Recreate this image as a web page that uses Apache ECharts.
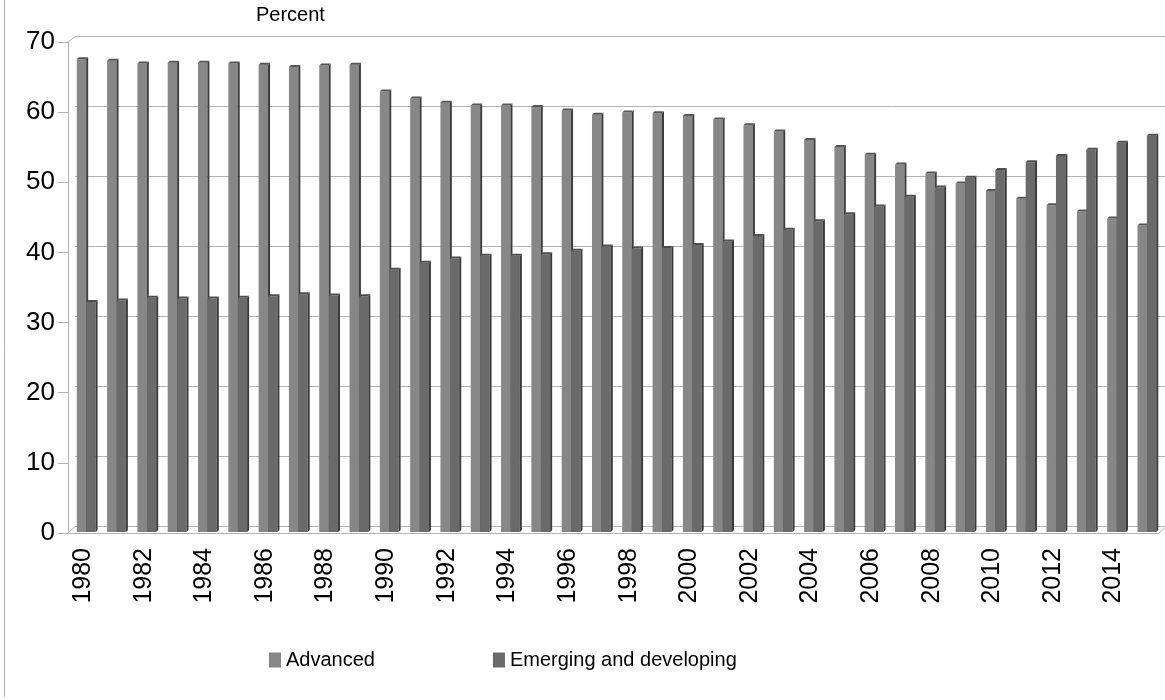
<!DOCTYPE html>
<html>
<head>
<meta charset="utf-8">
<script src="https://cdn.jsdelivr.net/npm/echarts@6/dist/echarts.min.js"></script>
<style>
  html, body { margin: 0; padding: 0; background: #fff; }
  #chart { width: 1165px; height: 700px; }
</style>
</head>
<body>
<div id="chart"></div>
<script>
// data
var years = ['1980','1981','1982','1983','1984','1985','1986','1987','1988','1989',
  '1990','1991','1992','1993','1994','1995','1996','1997','1998','1999',
  '2000','2001','2002','2003','2004','2005','2006','2007','2008','2009',
  '2010','2011','2012','2013','2014','2015'];
var advanced = [67.4, 67.2, 66.8, 66.9, 66.9, 66.8, 66.6, 66.3, 66.5, 66.6,
  62.8, 61.8, 61.2, 60.8, 60.8, 60.6, 60.1, 59.5, 59.8, 59.7,
  59.3, 58.8, 58.0, 57.1, 55.9, 54.9, 53.8, 52.4, 51.1, 49.7,
  48.6, 47.5, 46.6, 45.7, 44.7, 43.7];
var emerging = [32.8, 33.0, 33.4, 33.3, 33.3, 33.4, 33.6, 33.9, 33.7, 33.6,
  37.4, 38.4, 39.0, 39.4, 39.4, 39.6, 40.1, 40.7, 40.4, 40.5,
  40.9, 41.4, 42.2, 43.1, 44.3, 45.3, 46.4, 47.8, 49.1, 50.5,
  51.6, 52.7, 53.6, 54.5, 55.5, 56.5];
var yTicks = { min: 0, max: 70, interval: 10 };

var FONT = 'Liberation Sans, Arial, sans-serif';
var DEPTH = 2;

// 3d-ish bar: front face + dark side + top cap
function barRenderer(offset, widthFrac, front, side, cap) {
  return function (params, api) {
    var idx = api.value(0), v = api.value(1);
    var top = api.coord([idx, v]);
    var base = api.coord([idx, 0]);
    var band = api.size([1, 0])[0];
    var x = top[0] + offset * band;
    var w = widthFrac * band;
    var yT = top[1] - 1, yB = base[1] - 1;
    var d = DEPTH;
    return {
      type: 'group',
      children: [
        { type: 'rect', shape: { x: x, y: yT, width: w, height: yB - yT },
          style: { fill: front } },
        { type: 'polygon', shape: { points: [[x + w, yT], [x + w + d, yT - d], [x + w + d, yB - d], [x + w, yB]] },
          style: { fill: side } },
        { type: 'polygon', shape: { points: [[x, yT], [x + d, yT - d], [x + w + d, yT - d], [x + w, yT]] },
          style: { fill: cap } }
      ]
    };
  };
}

var chart = echarts.init(document.getElementById('chart'));
var option = {
  animation: false,
  color: ['#878787', '#6a6a6a'],
  textStyle: { fontFamily: FONT },
  grid: [
    // front plane (axes, bars)
    { left: 68, right: 6, top: 42, bottom: 167 },
    // back wall (grid lines)
    { left: 75, right: 0, top: 36.7, bottom: 173.3 }
  ],
  legend: {
    left: 264, top: 645,
    itemWidth: 12, itemHeight: 15, itemGap: 118,
    icon: 'rect',
    textStyle: { fontSize: 20, color: '#000', fontFamily: FONT },
    data: ['Advanced', 'Emerging and developing']
  },
  graphic: [
    { type: 'text', left: 256, top: 5, style: { text: 'Percent', fontSize: 20, fill: '#000', fontFamily: FONT } },
    { type: 'line', shape: { x1: 4.5, y1: 0, x2: 4.5, y2: 697 }, style: { stroke: '#b3b3b3', lineWidth: 1 } },
    { type: 'line', shape: { x1: 68, y1: 42, x2: 75, y2: 36.7 }, style: { stroke: '#b3b3b3', lineWidth: 1 } },
    { type: 'line', shape: { x1: 68, y1: 533, x2: 75, y2: 526.7 }, style: { stroke: '#b3b3b3', lineWidth: 1 } },
    { type: 'line', shape: { x1: 1159, y1: 533, x2: 1165, y2: 527.5 }, style: { stroke: '#b3b3b3', lineWidth: 1 } }
  ],
  xAxis: [
    {
      gridIndex: 0, type: 'category', data: years, boundaryGap: true,
      axisLine: { lineStyle: { color: '#b3b3b3' } },
      axisTick: { interval: 0, length: 10, lineStyle: { color: '#b3b3b3' } },
      axisLabel: { interval: 1, rotate: 90, margin: 15, fontSize: 25, color: '#000', fontFamily: FONT },
      splitLine: { show: false }
    },
    {
      gridIndex: 1, type: 'category', data: years, show: false
    }
  ],
  yAxis: [
    {
      gridIndex: 0, type: 'value', min: yTicks.min, max: yTicks.max, interval: yTicks.interval,
      axisLine: { show: true, lineStyle: { color: '#b3b3b3' } },
      axisTick: { show: true, length: 10, lineStyle: { color: '#b3b3b3' } },
      axisLabel: { margin: 13, fontSize: 26, color: '#000', fontFamily: FONT },
      splitLine: { show: false }
    },
    {
      gridIndex: 1, type: 'value', min: yTicks.min, max: yTicks.max, interval: yTicks.interval,
      axisLine: { show: false }, axisTick: { show: false }, axisLabel: { show: false },
      splitLine: { show: true, lineStyle: { color: '#b3b3b3', width: 1 } }
    }
  ],
  series: [
    {
      name: 'Advanced', type: 'custom', xAxisIndex: 0, yAxisIndex: 0,
      itemStyle: { color: '#878787' },
      renderItem: barRenderer(-0.21, 0.31, '#878787', '#3c3c3c', '#555555'),
      encode: { x: 0, y: 1 },
      data: years.map(function (y, i) { return [i, advanced[i]]; })
    },
    {
      name: 'Emerging and developing', type: 'custom', xAxisIndex: 0, yAxisIndex: 0,
      itemStyle: { color: '#6a6a6a' },
      renderItem: barRenderer(0.10, 0.31, '#6a6a6a', '#3a3a3a', '#4e4e4e'),
      encode: { x: 0, y: 1 },
      data: years.map(function (y, i) { return [i, emerging[i]]; })
    }
  ]
};
chart.setOption(option);
</script>
</body>
</html>
